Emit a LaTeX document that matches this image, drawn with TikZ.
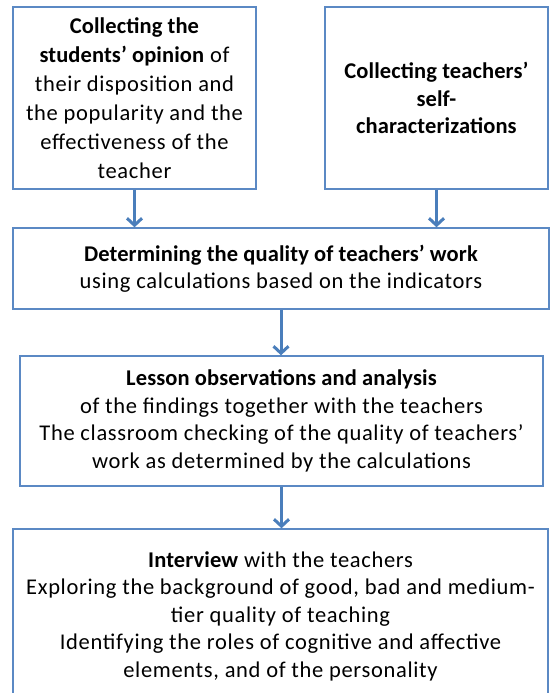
\documentclass[tikz,border=0pt]{standalone}
\usepackage{fontspec}
\setmainfont{Carlito}[LetterSpace=3, BoldFeatures={LetterSpace=0.5}]
\usetikzlibrary{arrows.meta}
\definecolor{boxblue}{HTML}{5B89C4}
\definecolor{arrblue}{HTML}{4A7EBB}
\begin{document}
\begin{tikzpicture}[x=1pt,y=-1pt,
  box/.style={draw=boxblue, line width=1.4pt, fill=white, align=center, inner sep=0pt,
    font=\fontsize{22.5}{27.5}\selectfont, text=black},
  arr/.style={draw=arrblue, line width=3pt, -{Straight Barb[length=7pt,width=15pt,line width=3pt]}}]
\useasboundingbox (0,0) rectangle (550,693);
\clip (0,0) rectangle (550,693);
\fill[white] (0,0) rectangle (550,693);
\node[box, font=\fontsize{22.5}{29}\selectfont, minimum width=243pt, minimum height=182pt] (A) at (134.5,98)
  {\textbf{Collecting the}\\\textbf{students’ opinion} of\\their disposition and\\the popularity and the\\effectiveness of the\\teacher};
\node[box, minimum width=223pt, minimum height=182pt] (B) at (436.5,98)
  {\textbf{Collecting teachers’}\\\textbf{self-}\\\textbf{characterizations}};
\node[box, minimum width=536pt, minimum height=81pt] (C) at (281,268.5)
  {\textbf{Determining the quality of teachers’ work}\\using calculations based on the indicators};
\node[box, minimum width=523pt, minimum height=130pt] (D) at (281.5,421)
  {\textbf{Lesson observations and analysis}\\of the findings together with the teachers\\The classroom checking of the quality of teachers’\\work as determined by the calculations};
\node[box, minimum width=535pt, minimum height=174pt] (E) at (280.5,616)
  {\textbf{Interview} with the teachers\\Exploring the background of good, bad and medium-\\tier quality of teaching\\Identifying the roles of cognitive and affective\\elements, and of the personality};
\draw[arr] (A.south) -- (A.south |- C.north);
\draw[arr] (B.south) -- (B.south |- C.north);
\draw[arr] (C.south) -- (C.south |- D.north);
\draw[arr] (D.south) -- (D.south |- E.north);
\end{tikzpicture}
\end{document}
